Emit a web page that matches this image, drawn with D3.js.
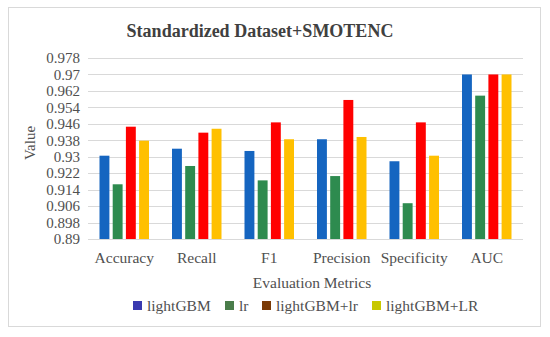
<!DOCTYPE html>
<html>
<head>
<meta charset="utf-8">
<script src="https://cdn.jsdelivr.net/npm/d3@7.9.0/dist/d3.min.js"></script>
<style>
  html, body { margin: 0; padding: 0; background: #fff; }
  svg text { font-family: "Liberation Serif", "DejaVu Serif", serif; fill: #505050; }
</style>
</head>
<body>
<svg id="chart"></svg>
<script>
// chart data
const categories = ['Accuracy', 'Recall', 'F1', 'Precision', 'Specificity', 'AUC'];
const seriesNames = ['lightGBM', 'lr', 'lightGBM+lr', 'lightGBM+LR'];
const lightGBM  = [0.9305, 0.9339, 0.9328, 0.9385, 0.9278, 0.970];
const lr        = [0.9166, 0.9255, 0.9185, 0.9206, 0.9074, 0.9597];
const lightLr   = [0.9446, 0.9417, 0.9467, 0.9576, 0.9467, 0.970];
const lightLR   = [0.9378, 0.9436, 0.9385, 0.9396, 0.9305, 0.970];
const yTicks = [0.89, 0.898, 0.906, 0.914, 0.922, 0.93, 0.938, 0.946, 0.954, 0.962, 0.97, 0.978];

const seriesValues = [lightGBM, lr, lightLr, lightLR];
const barColors = ['#1565c0', '#2e8b4f', '#ff0000', '#ffc000'];
const legendColors = ['#3a3ab0', '#4a7d4a', '#7a3a06', '#c8c800'];

const width = 550, height = 337;
const margin = { top: 58, right: 27, bottom: 98, left: 88 };

const svg = d3.select('#chart')
    .attr('width', width)
    .attr('height', height);

// outer frame
svg.append('rect')
  .attr('x', 8.5).attr('y', 7.5)
  .attr('width', 532).attr('height', 319)
  .attr('fill', '#fff')
  .attr('stroke', '#d9d9d9');

const x0 = d3.scaleBand()
  .domain(categories)
  .range([margin.left, width - margin.right]);

const x1 = d3.scaleBand()
  .domain(seriesNames)
  .range([11.5, 61])
  .paddingInner(0.25);

const y = d3.scaleLinear()
  .domain([0.89, 0.978])
  .range([height - margin.bottom, margin.top]);

// gridlines
svg.append('g')
  .selectAll('line')
  .data(yTicks)
  .join('line')
  .attr('x1', margin.left)
  .attr('x2', width - margin.right)
  .attr('y1', d => Math.round(y(d)) + 0.5)
  .attr('y2', d => Math.round(y(d)) + 0.5)
  .attr('stroke', '#d9d9d9')
  .attr('stroke-width', 1);

// y tick labels
const yAxis = d3.axisLeft(y)
  .tickValues(yTicks)
  .tickSize(0)
  .tickPadding(8)
  .tickFormat(d => String(+d.toFixed(3)));

svg.append('g')
  .attr('transform', `translate(${margin.left},0)`)
  .call(yAxis)
  .call(g => g.select('.domain').remove())
  .call(g => g.selectAll('text')
    .attr('font-size', 15)
    .style('font-family', '"Liberation Serif", serif')
    .attr('fill', '#505050'));

// bars
const groups = svg.append('g')
  .selectAll('g')
  .data(categories)
  .join('g')
  .attr('transform', d => `translate(${x0(d)},0)`);

groups.selectAll('rect')
  .data((c, i) => seriesNames.map((s, j) => ({ s, j, v: seriesValues[j][i] })))
  .join('rect')
  .attr('x', d => x1(d.s))
  .attr('width', x1.bandwidth())
  .attr('y', d => y(d.v))
  .attr('height', d => y(0.89) - y(d.v))
  .attr('fill', d => barColors[d.j]);

// x category labels
const xAxis = d3.axisBottom(x0).tickSize(0).tickPadding(13);
svg.append('g')
  .attr('transform', `translate(0,${y(0.89)})`)
  .call(xAxis)
  .call(g => g.select('.domain').remove())
  .call(g => g.selectAll('text')
    .attr('font-size', 15.5)
    .style('font-family', '"Liberation Serif", serif')
    .attr('fill', '#505050'));

// title
svg.append('text')
  .attr('x', 260)
  .attr('y', 37)
  .attr('text-anchor', 'middle')
  .attr('font-size', 18)
  .attr('font-weight', 'bold')
  .style('fill', '#404040')
  .text('Standardized Dataset+SMOTENC');

// axis titles
svg.append('text')
  .attr('x', 312)
  .attr('y', 288)
  .attr('text-anchor', 'middle')
  .attr('font-size', 15.5)
  .text('Evaluation Metrics');

svg.append('text')
  .attr('transform', 'translate(35,143) rotate(-90)')
  .attr('text-anchor', 'middle')
  .attr('font-size', 15)
  .text('Value');

// legend
const legendX = [133, 225, 262, 372];
const legend = svg.append('g')
  .selectAll('g')
  .data(seriesNames)
  .join('g')
  .attr('transform', (d, i) => `translate(${legendX[i]},301)`);

legend.append('rect')
  .attr('width', 9).attr('height', 9)
  .attr('fill', (d, i) => legendColors[i]);

legend.append('text')
  .attr('x', 14)
  .attr('y', 9.5)
  .attr('font-size', 15.5)
  .text(d => d);
</script>
</body>
</html>
